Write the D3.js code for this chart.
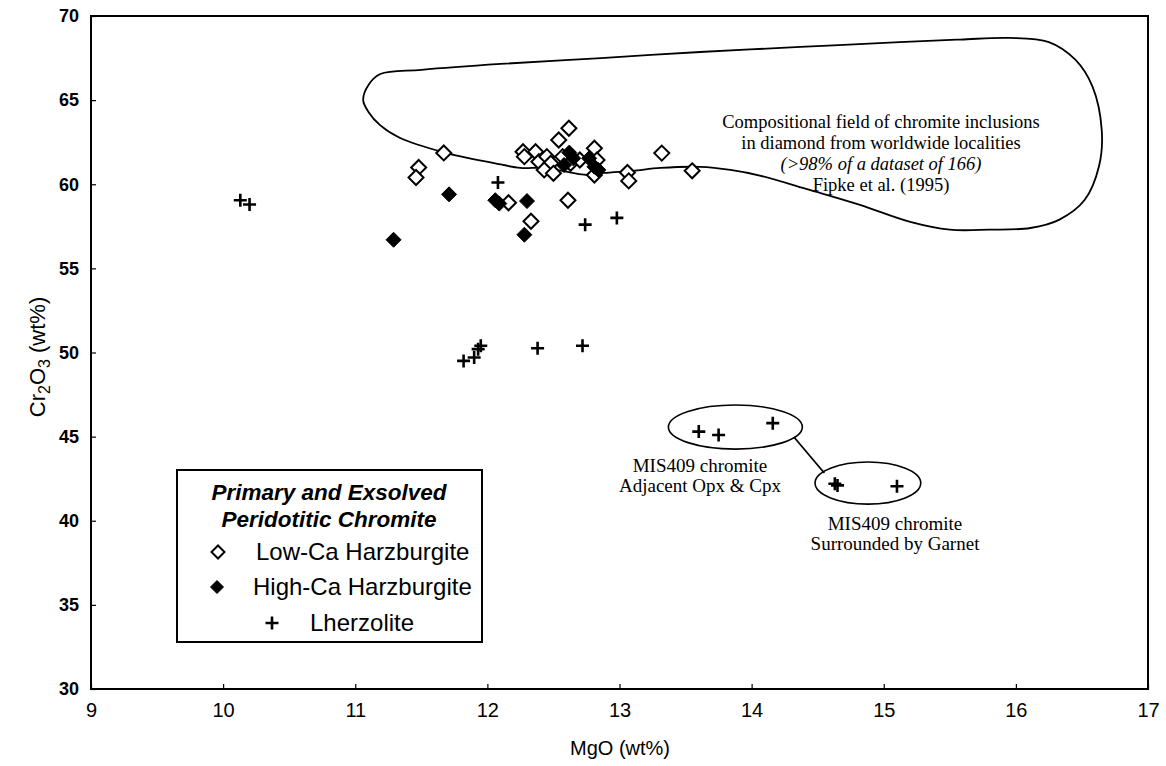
<!DOCTYPE html>
<html>
<head>
<meta charset="utf-8">
<script src="https://cdn.jsdelivr.net/npm/d3@7"></script>
<style>
  body { margin: 0; background: #fff; }
  svg { display: block; }
</style>
</head>
<body>
<div id="chart"></div>
<script>
// ---- data (MgO wt%, Cr2O3 wt%) ----
var lowCa = [
  [11.48, 61.0], [11.46, 60.4], [11.67, 61.86],
  [12.27, 61.93], [12.28, 61.64], [12.365, 61.93], [12.39, 61.34],
  [12.45, 61.64], [12.48, 61.25], [12.43, 60.85], [12.50, 60.65],
  [12.57, 61.64], [12.63, 61.25], [12.70, 61.44], [12.617, 63.33],
  [12.54, 62.63], [12.81, 62.14], [12.83, 61.44], [12.81, 60.55],
  [13.06, 60.7], [13.07, 60.2], [13.32, 61.85], [13.55, 60.8],
  [12.61, 59.05], [12.16, 58.9], [12.33, 57.8]
];
var highCa = [
  [11.29, 56.7], [11.71, 59.4], [12.06, 59.05], [12.09, 58.85],
  [12.30, 59.0], [12.28, 57.0],
  [12.62, 61.88], [12.65, 61.54], [12.58, 61.14], [12.77, 61.54],
  [12.81, 61.04], [12.84, 60.85]
];
var lherz = [
  [10.13, 59.05], [10.2, 58.8], [12.08, 60.1], [12.74, 57.6], [12.98, 58.0],
  [11.82, 49.5], [11.90, 49.7], [11.93, 50.2], [11.95, 50.4],
  [12.38, 50.25], [12.72, 50.4],
  [13.60, 45.3], [13.75, 45.1], [14.16, 45.8],
  [14.65, 42.1], [14.63, 42.2], [15.10, 42.05]
];
// compositional field of chromite inclusions (Fipke et al. 1995), traced outline
var fieldOutline = [
  [11.06, 65.0], [11.10, 65.9], [11.19, 66.55], [11.50, 66.8], [12.10, 67.15],
  [12.86, 67.5], [13.61, 67.86], [14.37, 68.16], [15.12, 68.45], [15.58, 68.6],
  [15.95, 68.7], [16.25, 68.45], [16.45, 67.4], [16.58, 65.8], [16.65, 63.2],
  [16.63, 61.1], [16.52, 59.06], [16.33, 57.9], [16.11, 57.4], [15.8, 57.3],
  [15.5, 57.3], [15.2, 57.76], [14.82, 58.77], [14.44, 59.66], [14.07, 60.5],
  [13.84, 60.85], [13.61, 61.03], [13.31, 60.97], [13.1, 60.8], [12.88, 60.67],
  [12.76, 60.55], [12.43, 60.97], [12.25, 60.97], [12.05, 61.26], [11.67, 61.9],
  [11.34, 62.75], [11.19, 63.5], [11.10, 64.3]
];
// MIS409 groups: ellipse centre and half-axes in data units
var mis409Groups = [
  { cx: 13.877, cy: 45.57, rx: 0.507, ry: 1.31 },
  { cx: 14.88, cy: 42.24, rx: 0.40, ry: 1.25 }
];
var mis409Link = [[14.32, 44.98], [14.55, 42.84]];

var xTicks = [9, 10, 11, 12, 13, 14, 15, 16, 17];
var yTicks = [30, 35, 40, 45, 50, 55, 60, 65, 70];

// ---- layout ----
var svgWidth = 1166, svgHeight = 766;
var margin = { top: 16, right: 18, bottom: 77, left: 91 };
var width = svgWidth - margin.left - margin.right;
var height = svgHeight - margin.top - margin.bottom;

var svg = d3.select("#chart").append("svg")
  .attr("width", svgWidth)
  .attr("height", svgHeight);

var g = svg.append("g")
  .attr("transform", `translate(${margin.left}, ${margin.top})`);

var x = d3.scaleLinear().domain([9, 17]).range([0, width]);
var y = d3.scaleLinear().domain([30, 70]).range([height, 0]);

// field outline
var fieldLine = d3.line()
  .x(d => x(d[0]))
  .y(d => y(d[1]))
  .curve(d3.curveCatmullRomClosed.alpha(0.5));

g.append("path")
  .attr("d", fieldLine(fieldOutline))
  .attr("fill", "none")
  .attr("stroke", "#000")
  .attr("stroke-width", 1.8);

// MIS409 ellipses and link
g.selectAll(".grp")
  .data(mis409Groups)
  .enter()
  .append("ellipse")
  .attr("cx", d => x(d.cx))
  .attr("cy", d => y(d.cy))
  .attr("rx", d => x(d.cx + d.rx) - x(d.cx))
  .attr("ry", d => y(d.cy - d.ry) - y(d.cy))
  .attr("fill", "none")
  .attr("stroke", "#000")
  .attr("stroke-width", 1.6);

g.append("line")
  .attr("x1", x(mis409Link[0][0]))
  .attr("y1", y(mis409Link[0][1]))
  .attr("x2", x(mis409Link[1][0]))
  .attr("y2", y(mis409Link[1][1]))
  .attr("stroke", "#000")
  .attr("stroke-width", 1.8);

// marker shapes
function diamond(r) {
  return `M0,${-r}L${r},0L0,${r}L${-r},0Z`;
}
function cross(r) {
  return `M${-r},0H${r}M0,${-r}V${r}`;
}

g.selectAll(".low")
  .data(lowCa)
  .enter()
  .append("path")
  .attr("class", "low")
  .attr("transform", d => `translate(${x(d[0])},${y(d[1])})`)
  .attr("d", diamond(7.5))
  .attr("fill", "#fff")
  .attr("stroke", "#000")
  .attr("stroke-width", 2);

g.selectAll(".high")
  .data(highCa)
  .enter()
  .append("path")
  .attr("class", "high")
  .attr("transform", d => `translate(${x(d[0])},${y(d[1])})`)
  .attr("d", diamond(7.5))
  .attr("fill", "#000")
  .attr("stroke", "#000")
  .attr("stroke-width", 1);

g.selectAll(".lherz")
  .data(lherz)
  .enter()
  .append("path")
  .attr("class", "lherz")
  .attr("transform", d => `translate(${x(d[0])},${y(d[1])})`)
  .attr("d", cross(6.5))
  .attr("stroke", "#000")
  .attr("stroke-width", 2.6);

// axes with inward ticks
var bottomAxis = d3.axisBottom(x).tickValues(xTicks).tickSizeInner(-5).tickSizeOuter(0).tickPadding(14);
var leftAxis = d3.axisLeft(y).tickValues(yTicks).tickSizeInner(-5).tickSizeOuter(0).tickPadding(12);

var xAxisG = g.append("g")
  .attr("transform", `translate(0, ${height})`)
  .call(bottomAxis);
xAxisG.selectAll("text")
  .attr("font-family", "'Liberation Sans Narrow', 'Liberation Sans', Arial, sans-serif")
  .attr("font-size", "20px")
  .attr("fill", "#000");

var yAxisG = g.append("g").call(leftAxis);
yAxisG.selectAll("text")
  .attr("font-family", "'Liberation Sans', Arial, sans-serif")
  .attr("font-weight", "bold")
  .attr("font-size", "18px")
  .attr("fill", "#000");

svg.selectAll(".domain").remove();
svg.selectAll(".tick line").attr("stroke", "#000").attr("stroke-width", 1.2);

// frame
g.append("rect")
  .attr("width", width)
  .attr("height", height)
  .attr("fill", "none")
  .attr("stroke", "#000")
  .attr("stroke-width", 2);

// axis titles
svg.append("text")
  .attr("x", 620)
  .attr("y", 755)
  .attr("text-anchor", "middle")
  .attr("font-family", "'Liberation Sans', Arial, sans-serif")
  .attr("font-size", "20px")
  .text("MgO (wt%)");

var yTitle = svg.append("text")
  .attr("transform", "translate(45, 357) rotate(-90)")
  .attr("text-anchor", "middle")
  .attr("font-family", "'Liberation Sans', Arial, sans-serif")
  .attr("font-size", "22px");
yTitle.append("tspan").text("Cr");
yTitle.append("tspan").attr("font-size", "16px").attr("dy", 5).text("2");
yTitle.append("tspan").attr("dy", -5).text("O");
yTitle.append("tspan").attr("font-size", "16px").attr("dy", 5).text("3");
yTitle.append("tspan").attr("dy", -5).text(" (wt%)");

// annotations
var serif = "'Liberation Serif', 'Times New Roman', serif";
var fieldNote = ["Compositional field of chromite inclusions",
                 "in diamond from worldwide localities",
                 "(>98% of a dataset of 166)",
                 "Fipke et al. (1995)"];
svg.selectAll(".fieldNote")
  .data(fieldNote)
  .enter()
  .append("text")
  .attr("x", 881)
  .attr("y", (d, i) => 128 + i * 21)
  .attr("text-anchor", "middle")
  .attr("font-family", serif)
  .attr("font-size", "18.5px")
  .attr("font-style", (d, i) => i === 2 ? "italic" : "normal")
  .text(d => d);

var misNotes = [
  { x: 700, y: 472, t: "MIS409 chromite" },
  { x: 700, y: 492, t: "Adjacent Opx & Cpx" },
  { x: 895, y: 530, t: "MIS409 chromite" },
  { x: 895, y: 550, t: "Surrounded by Garnet" }
];
svg.selectAll(".misNote")
  .data(misNotes)
  .enter()
  .append("text")
  .attr("x", d => d.x)
  .attr("y", d => d.y)
  .attr("text-anchor", "middle")
  .attr("font-family", serif)
  .attr("font-size", "19px")
  .text(d => d.t);

// legend
var legend = svg.append("g");
legend.append("rect")
  .attr("x", 177).attr("y", 470)
  .attr("width", 305).attr("height", 172)
  .attr("fill", "#fff")
  .attr("stroke", "#000")
  .attr("stroke-width", 2);

legend.selectAll(".lt")
  .data(["Primary and Exsolved", "Peridotitic Chromite"])
  .enter()
  .append("text")
  .attr("x", 329)
  .attr("y", (d, i) => 500 + i * 27)
  .attr("text-anchor", "middle")
  .attr("font-family", "'Liberation Sans', Arial, sans-serif")
  .attr("font-weight", "bold")
  .attr("font-style", "italic")
  .attr("font-size", "22.5px")
  .text(d => d);

var legendItems = [
  { label: "Low-Ca Harzburgite", sx: 218, tx: 256, cy: 552, kind: "low" },
  { label: "High-Ca Harzburgite", sx: 217, tx: 253, cy: 587, kind: "high" },
  { label: "Lherzolite", sx: 272, tx: 310, cy: 623, kind: "lherz" }
];
legendItems.forEach(function (it) {
  var sym = legend.append("path")
    .attr("transform", `translate(${it.sx},${it.cy})`)
    .attr("stroke", "#000");
  if (it.kind === "low") sym.attr("d", diamond(6.5)).attr("fill", "#fff").attr("stroke-width", 2);
  else if (it.kind === "high") sym.attr("d", diamond(6.5)).attr("fill", "#000").attr("stroke-width", 1);
  else sym.attr("d", cross(6.5)).attr("stroke-width", 2.6);
  legend.append("text")
    .attr("x", it.tx)
    .attr("y", it.cy + 8)
    .attr("font-family", "'Liberation Sans', Arial, sans-serif")
    .attr("font-size", "24px")
    .text(it.label);
});
</script>
</body>
</html>
